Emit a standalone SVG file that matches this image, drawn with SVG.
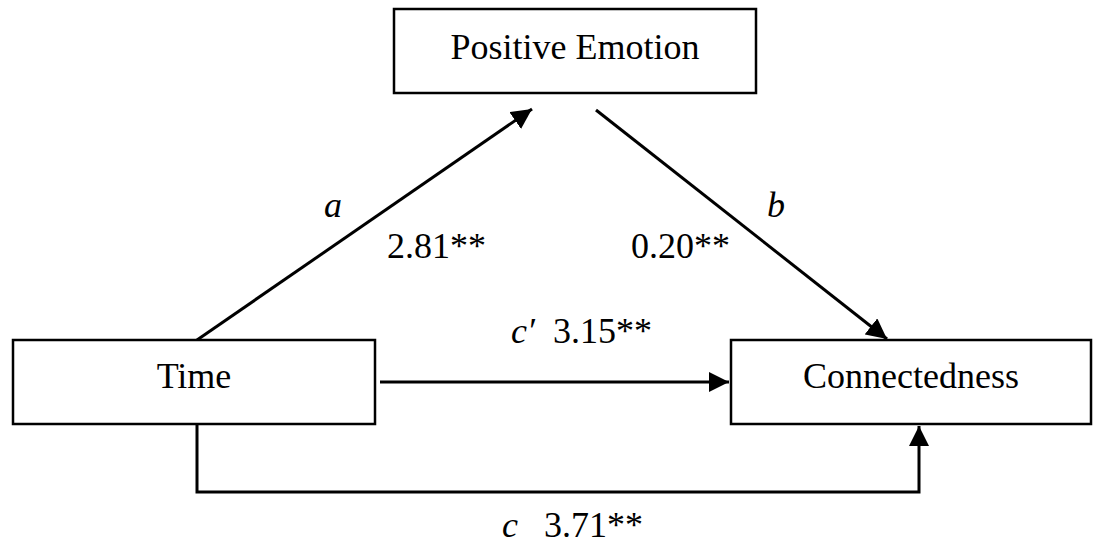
<svg xmlns="http://www.w3.org/2000/svg" width="1102" height="544" viewBox="0 0 1102 544">
<style>
.box{fill:#fff;stroke:#000;stroke-width:2.5}
.t{font-family:"Liberation Serif","Times New Roman",serif;font-size:36px;fill:#000}
.i{font-style:italic}
.c{fill:none;stroke:#000;stroke-width:3}
</style>
<defs>
<marker id="ah" viewBox="0 0 10 10" refX="10" refY="5" markerWidth="6.8" markerHeight="6.8" markerUnits="strokeWidth" orient="auto">
<path d="M0,0 L10,5 L0,10 Z" fill="#000"/>
</marker>
</defs>
<rect width="1102" height="544" fill="#fff"/>
<g id="connectors">
<line class="c" x1="197" y1="340" x2="532" y2="109" marker-end="url(#ah)"/>
<line class="c" x1="596" y1="110" x2="887" y2="339" marker-end="url(#ah)"/>
<line class="c" x1="380" y1="382" x2="729" y2="382" marker-end="url(#ah)"/>
<polyline class="c" points="197,424 197,492 919,492 919,426" marker-end="url(#ah)"/>
</g>
<g id="positive-emotion">
<rect class="box" x="394" y="9" width="362" height="84"/>
<text class="t" x="575" y="59" text-anchor="middle">Positive Emotion</text>
</g>
<g id="time">
<rect class="box" x="13" y="340" width="362" height="84"/>
<text class="t" x="194" y="388" text-anchor="middle">Time</text>
</g>
<g id="connectedness">
<rect class="box" x="731" y="340" width="360" height="84"/>
<text class="t" x="911" y="388" text-anchor="middle">Connectedness</text>
</g>
<g id="labels">
<text class="t i" x="324" y="217">a</text>
<text class="t" x="387" y="258">2.81**</text>
<text class="t i" x="767" y="217">b</text>
<text class="t" x="631" y="258">0.20**</text>
<text class="t i" x="511" y="343">c′</text>
<text class="t" x="553" y="343">3.15**</text>
<text class="t i" x="502" y="537">c</text>
<text class="t" x="544" y="537">3.71**</text>
</g>
</svg>
